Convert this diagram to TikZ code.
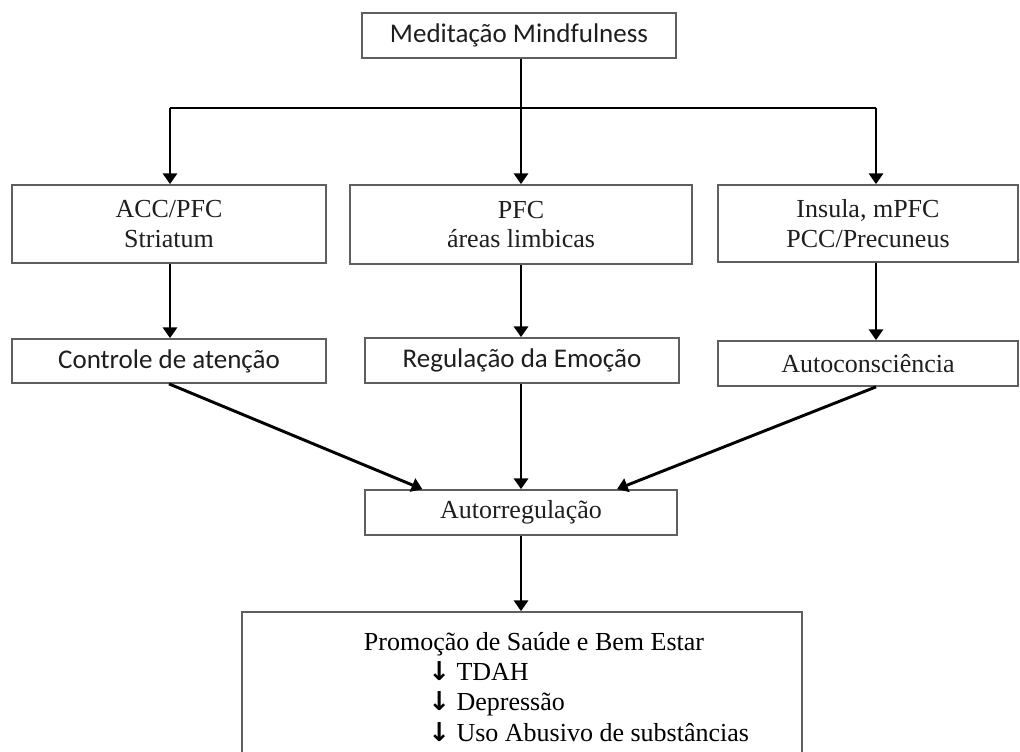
\documentclass[tikz,border=0pt]{standalone}
\usepackage{fontspec}
\setmainfont{Liberation Serif}
\newfontfamily\calibfont{Carlito}
\newfontfamily\arrowfont{DejaVu Sans}
\usetikzlibrary{arrows.meta}

\tikzset{
  box/.style={draw={rgb,255:red,95;green,95;blue,95}, line width=1.3pt, inner sep=0pt, align=center, text={rgb,255:red,30;green,30;blue,30}, font=\fontsize{19.5}{22}\selectfont},
  sansbox/.style={box, font=\calibfont\fontsize{20.25}{24}\selectfont},
  link/.style={line width=2.2pt},
  arr/.style={line width=2.2pt, -{Triangle[length=8pt,width=10.5pt]}},
}

\begin{document}
\begin{tikzpicture}[x=0.75pt,y=0.75pt,yscale=-1,xscale=1]
\clip (0,0) rectangle (1020,751);

% Text Node
\node [sansbox, minimum width=314*0.75pt, minimum height=45*0.75pt] (med) at (519,35.5) {Meditação Mindfulness};
% Text Node
\node [box, minimum width=314*0.75pt, minimum height=78*0.75pt] (acc) at (169,224) {ACC/PFC\\Striatum};
% Text Node
\node [box, minimum width=342*0.75pt, minimum height=79*0.75pt] (pfc) at (521,224.5) {PFC\\áreas limbicas};
% Text Node
\node [box, minimum width=300*0.75pt, minimum height=77*0.75pt] (ins) at (868,223.5) {Insula, mPFC\\PCC/Precuneus};
% Text Node
\node [sansbox, minimum width=314*0.75pt, minimum height=44*0.75pt] (ctrl) at (169,361) {Controle de atenção};
% Text Node
\node [sansbox, minimum width=314*0.75pt, minimum height=45*0.75pt] (emo) at (522,360.5) {Regulação da Emoção};
% Text Node
\node [box, minimum width=300*0.75pt, minimum height=45*0.75pt] (auto) at (868,363.5) {Autoconsciência};
% Text Node
\node [box, minimum width=312*0.75pt, minimum height=45*0.75pt] (autor) at (521,512.5) {Autorregulação};
%Shape: Rectangle
\node [box, minimum width=560*0.75pt, minimum height=160*0.75pt] (prom) at (522,692) {};
% Text Node
\node [font=\fontsize{19.5}{24}\selectfont, inner sep=0pt, anchor=base] (promtit) at (534,650) {Promoção de Saúde e Bem Estar};
% Text Node
\node [font=\fontsize{19.5}{23}\selectfont, inner sep=0pt, anchor=north west, align=left] (promlist) at (428,661)
  {{\arrowfont\bfseries ↓} TDAH\\{\arrowfont\bfseries ↓} Depressão\\{\arrowfont\bfseries ↓} Uso Abusivo de substâncias};

\coordinate (jl) at (170,108);
\coordinate (jm) at (521,108);
\coordinate (jr) at (876,108);

%Straight Lines
\draw [link] (med.south -| jm) -- (jm);
\draw [link] (jl) -- (jr);
\draw [arr] (jl) -- (jl |- acc.north);
\draw [arr] (jm) -- (jm |- pfc.north);
\draw [arr] (jr) -- (jr |- ins.north);
%Straight Lines
\draw [arr] (acc.south -| jl) -- (ctrl.north -| jl);
\draw [arr] (pfc.south -| jm) -- (emo.north -| jm);
\draw [arr] (ins.south -| jr) -- (auto.north -| jr);
%Straight Lines
\draw [arr] (ctrl.south) -- ([xshift=-74pt]autor.north);
\draw [arr] (emo.south -| jm) -- (autor.north -| jm);
\draw [arr] (auto.south -| jr) -- ([xshift=72pt]autor.north);
\draw [arr] (autor.south -| jm) -- (prom.north -| jm);

\end{tikzpicture}
\end{document}
